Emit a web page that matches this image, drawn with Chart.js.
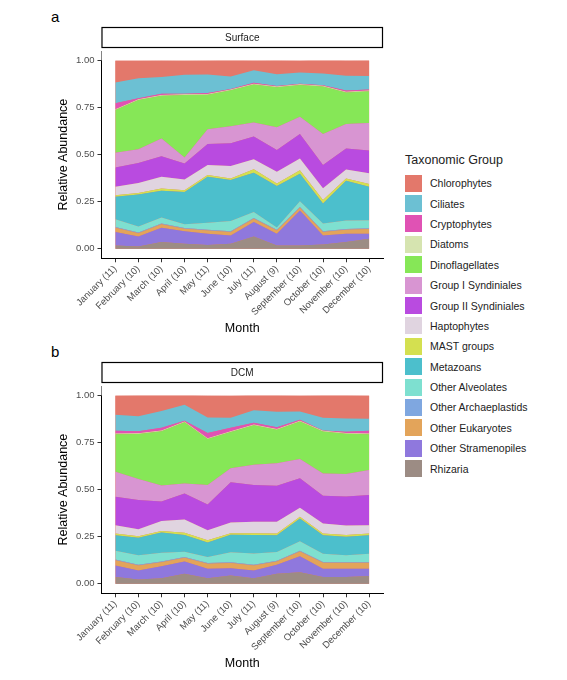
<!DOCTYPE html>
<html><head><meta charset="utf-8">
<script src="https://cdn.jsdelivr.net/npm/chart.js@4"></script>
<style>
body{margin:0;background:#fff;font-family:"Liberation Sans",Arial,sans-serif;}
.wrap{position:absolute;}
.lab{position:absolute;font-size:15px;color:#000;}
#legend{position:absolute;left:405px;top:153px;font-size:10.5px;color:#222;}
#legend .t{font-size:12.5px;margin-bottom:6px;}
#legend .r{display:flex;align-items:center;height:20.4px;}
#legend .s{width:17px;height:17px;margin-right:8px;}
</style></head><body>
<div class="lab" style="left:51px;top:8px">a</div>
<div class="lab" style="left:51px;top:343px">b</div>
<div class="wrap" style="left:52px;top:26px;width:335px;height:314px"><canvas id="c1"></canvas></div>
<div class="wrap" style="left:52px;top:361px;width:335px;height:314px"><canvas id="c2"></canvas></div>
<div id="legend"></div>
<script>
const months=["January (11)","February (10)","March (10)","April (10)","May (11)","June (10)","July (11)","August (9)","September (10)","October (10)","November (10)","December (10)"];
const groups=["Chlorophytes","Ciliates","Cryptophytes","Diatoms","Dinoflagellates","Group I Syndiniales","Group II Syndiniales","Haptophytes","MAST groups","Metazoans","Other Alveolates","Other Archaeplastids","Other Eukaryotes","Other Stramenopiles","Rhizaria"];
const colors=["#E3786B","#6CC0D3","#E052B4","#D6E4B0","#86E757","#D895D2","#B94BE0","#E0D4E0","#D4E050","#4CBFCC","#7EE0D0","#7FA7E0","#E3A45A","#8F78DD","#9C8C84"];
// Surface (percent)
const surfRhizaria=[1.8,1.2,3.6,2.7,2.1,2.7,6.6,1.8,1.8,2.3,3.6,5.3];
const surfStramenopiles=[7.1,5.3,7.6,6.7,5.9,4.4,7.6,6.2,18.6,4.8,4.4,2.7];
const surfEukaryotes=[2.3,1.8,1.8,1.2,1.8,1.8,1.8,1.8,1.4,1.8,2.1,2.5];
const surfArchaeplastids=[0.4,0.4,0.4,0.4,0.4,0.4,0.4,0.4,0.4,0.4,0.4,0.4];
const surfAlveolates=[4.1,3.2,3.2,2.0,3.6,5.5,3.2,1.1,3.0,4.1,4.6,4.3];
const surfMetazoans=[11.9,17.0,14.2,17.2,24.5,21.7,20.8,22.0,14.7,10.7,21.0,17.8];
const surfMAST=[0.9,0.7,1.2,0.9,0.9,0.9,1.8,1.4,1.8,1.8,1.2,1.4];
const surfHaptophytes=[4.4,5.3,6.2,5.7,5.3,6.6,5.3,6.2,6.2,6.2,4.8,5.7];
const surfGroupII=[10.3,10.7,11.0,8.5,11.2,12.1,12.1,11.5,13.0,12.4,11.2,12.1];
const surfGroupI=[7.8,7.3,9.4,3.2,7.8,8.9,7.5,12.1,9.2,16.5,13.0,14.6];
const surfDino=[22.7,26.1,22.6,33.2,18.3,19.2,20.1,21.3,16.9,25.2,16.7,16.9];
const surfDiatoms=[0.4,0.4,0.4,0.4,0.4,0.4,0.4,0.4,0.4,0.4,0.4,0.4];
const surfCrypto=[3.2,0.5,0.7,0.2,0.5,0.2,0.5,0.2,0.2,0.2,0.7,0.5];
const surfCiliates=[11.0,10.7,8.9,10.1,9.8,6.7,6.7,6.2,6.0,6.2,7.8,7.1];
const surfChloro=[11.7,9.4,8.9,7.6,7.6,8.9,5.3,7.6,6.4,7.6,8.2,8.5];
// DCM (percent)
const dcmRhizaria=[3.6,2.3,3.0,5.3,3.0,4.4,3.0,5.3,6.2,3.6,3.6,4.1];
const dcmStramenopiles=[6.2,4.8,6.4,6.6,5.0,3.9,4.1,4.8,8.5,4.4,4.4,3.9];
const dcmEukaryotes=[2.7,2.7,2.1,2.0,2.7,2.8,2.7,1.8,2.5,3.2,3.2,3.2];
const dcmArchaeplastids=[0.4,0.4,0.4,0.4,0.4,0.4,0.4,0.4,0.4,0.4,0.4,0.4];
const dcmAlveolates=[4.6,5.0,4.6,2.7,3.2,5.3,5.9,4.6,5.0,4.4,3.6,4.4];
const dcmMetazoans=[8.3,9.2,10.7,8.9,7.6,9.2,9.8,8.9,12.1,9.8,9.8,9.8];
const dcmMAST=[0.9,0.9,0.9,1.2,1.2,0.9,0.9,0.9,0.9,0.9,0.9,0.9];
const dcmHaptophytes=[4.4,3.7,5.3,7.1,5.3,5.7,6.2,6.2,4.8,5.3,5.0,4.4];
const dcmGroupII=[15.1,15.5,10.3,13.7,13.7,21.3,19.5,19.2,15.6,14.7,15.5,16.0];
const dcmGroupI=[13.3,11.2,8.5,5.3,10.3,7.5,10.7,11.9,10.3,11.9,11.9,13.3];
const dcmDino=[19.9,23.8,28.8,32.5,24.5,19.2,21.0,17.8,19.9,22.2,21.3,19.0];
const dcmDiatoms=[0.4,0.4,0.4,0.4,0.4,0.4,0.4,0.4,0.4,0.4,0.4,0.4];
const dcmCrypto=[1.4,1.1,1.4,0.5,2.7,1.8,0.9,0.9,0.5,0.2,0.7,1.4];
const dcmCiliates=[8.5,8.0,8.9,8.5,8.3,5.3,6.6,8.2,4.4,6.7,7.1,6.4];
const dcmChloro=[10.3,11.2,8.5,5.3,11.7,11.7,8.2,8.9,8.5,12.1,12.4,12.4];
const yTicks=[0,25,50,75,100];

const surf=[surfChloro,surfCiliates,surfCrypto,surfDiatoms,surfDino,surfGroupI,surfGroupII,surfHaptophytes,surfMAST,surfMetazoans,surfAlveolates,surfArchaeplastids,surfEukaryotes,surfStramenopiles,surfRhizaria];
const dcm=[dcmChloro,dcmCiliates,dcmCrypto,dcmDiatoms,dcmDino,dcmGroupI,dcmGroupII,dcmHaptophytes,dcmMAST,dcmMetazoans,dcmAlveolates,dcmArchaeplastids,dcmEukaryotes,dcmStramenopiles,dcmRhizaria];

const leg=document.getElementById('legend');
leg.innerHTML='<div class="t">Taxonomic Group</div>'+groups.map((g,i)=>`<div class="r"><div class="s" style="background:${colors[i]}"></div>${g}</div>`).join('');

const F='"Liberation Sans", Arial, sans-serif';
function make(id,series,strip){
  const ds=[];
  for(let k=series.length-1;k>=0;k--){
    ds.push({label:groups[k],data:series[k].map((v,i)=>({x:i,y:v})),backgroundColor:colors[k],borderWidth:0,pointRadius:0,tension:0,fill:ds.length?'-1':'origin'});
  }
  const plug={id:'p'+id,
    beforeDatasetsDraw(c){const {ctx}=c,x=c.scales.x,y=c.scales.y;ctx.save();ctx.fillStyle=colors[0];
      ctx.fillRect(x.getPixelForValue(0),y.getPixelForValue(100),x.getPixelForValue(11)-x.getPixelForValue(0),y.getPixelForValue(0)-y.getPixelForValue(100));ctx.restore();},
    afterDatasetsDraw(c){const {ctx,chartArea:a}=c,y=c.scales.y;ctx.save();ctx.fillStyle='#fff';
      ctx.fillRect(a.left,a.top,a.right-a.left,y.getPixelForValue(100)-a.top);ctx.restore();},
    afterDraw(c){const {ctx,chartArea:a}=c;ctx.save();ctx.strokeStyle='#000';ctx.lineWidth=1.2;ctx.fillStyle='#fff';
      ctx.fillRect(a.left,1,a.right-a.left,21);ctx.strokeRect(a.left+0.5,1.5,a.right-a.left-1,20);
      ctx.fillStyle='#1a1a1a';ctx.font='10px '+F;ctx.textAlign='center';ctx.textBaseline='middle';ctx.fillText(strip,(a.left+a.right)/2,12);ctx.restore();}
  };
  new Chart(document.getElementById(id),{type:'line',data:{datasets:ds},plugins:[plug],
    options:{responsive:true,maintainAspectRatio:false,animation:false,layout:{padding:{top:25,right:4}},
      plugins:{legend:{display:false},tooltip:{enabled:false}},
      scales:{
        x:{type:'linear',min:-0.6,max:11.6,afterBuildTicks(s){s.ticks=months.map((m,i)=>({value:i}));},
          ticks:{callback:v=>months[v],maxRotation:45,minRotation:45,color:'#4d4d4d',font:{family:F,size:9.5},padding:1},
          grid:{drawOnChartArea:false,color:'#333',tickLength:4},border:{color:'#000',width:1},
          title:{display:true,text:'Month',color:'#000',font:{family:F,size:12.5},padding:{top:2}}},
        y:{stacked:true,min:-5,max:105,afterBuildTicks(s){s.ticks=yTicks.map(v=>({value:v}));},
          ticks:{callback:v=>(v/100).toFixed(2),color:'#4d4d4d',font:{family:F,size:9.5},padding:3},
          grid:{drawOnChartArea:false,color:'#333',tickLength:4},border:{color:'#000',width:1},
          title:{display:true,text:'Relative Abundance',color:'#000',font:{family:F,size:12.5},padding:{bottom:2}}}
      }}});
}
make('c1',surf,'Surface');
make('c2',dcm,'DCM');
</script></body></html>
